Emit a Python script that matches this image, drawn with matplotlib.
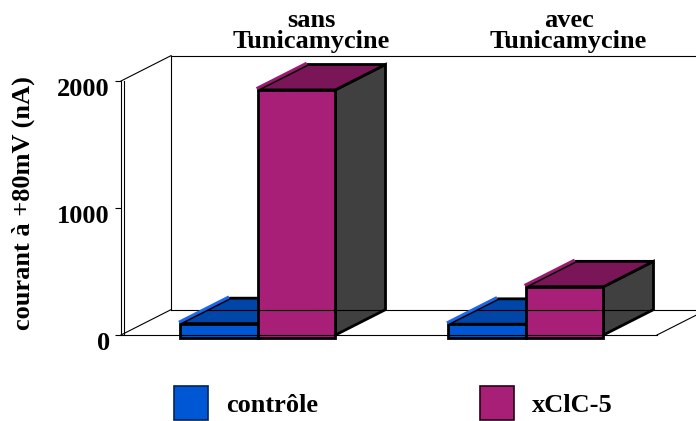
import matplotlib.pyplot as plt
from matplotlib.patches import Polygon, Rectangle, Patch
from matplotlib.transforms import ScaledTranslation

plt.rcParams['font.family'] = 'Liberation Serif'
plt.rcParams['font.weight'] = 'bold'

# data
groups = ['sans\nTunicamycine', 'avec\nTunicamycine']
series = ['contrôle', 'xClC-5']
controle = [90, 85]
xclc5 = [1930, 380]
yticks = [0, 1000, 2000]

front_colors = ['#0057d6', '#a81f78']
top_colors = ['#0045a8', '#7a1657']
edge_colors = ['#1a66e6', '#9a1a70']
side_color = '#404040'

# pseudo-3D depth (in data units)
DX = 0.187
DY = 200
BAR_W = 0.29
XMIN, XMAX = -0.51, 1.49
YMAX = 2000
label_x = [0.20, 1.16]

fig = plt.figure(figsize=(6.96, 4.21), dpi=100)
ax = fig.add_axes([121 / 696, (421 - 335) / 421, 536 / 696, 254 / 421])
ax.set_xlim(XMIN, XMAX)
ax.set_ylim(0, YMAX)

for s in ['top', 'right', 'bottom']:
    ax.spines[s].set_visible(False)
ax.spines['left'].set_linewidth(0.8)
ax.set_xticks([])
ax.set_yticks(yticks)
ax.set_yticklabels([str(t) for t in yticks], fontsize=19, fontweight='bold')
ax.tick_params(axis='y', direction='out', length=4, width=0.8, pad=4)
shift = ScaledTranslation(0, -4.5 / 72, fig.dpi_scale_trans)
for lab in ax.get_yticklabels():
    lab.set_transform(lab.get_transform() + shift)
ax.set_ylabel('courant à +80mV (nA)', fontsize=19, fontweight='bold')
ax.yaxis.set_label_coords(-0.16, 0.52)

# walls / floor
lk = dict(color='black', lw=0.8, clip_on=False)
ax.plot([XMIN + 0.012, XMIN + 0.012], [0, YMAX], **lk)
ax.plot([XMIN, XMAX], [0, 0], **lk)
ax.plot([XMIN, XMIN + DX], [0, DY], **lk)
ax.plot([XMIN, XMIN + DX], [YMAX, YMAX + DY], **lk)
ax.plot([XMIN + DX, XMIN + DX], [DY, YMAX + DY], **lk)
ax.plot([XMIN + DX, XMAX + DX], [DY, DY], **lk)
ax.plot([XMIN + DX, XMAX + DX], [YMAX + DY, YMAX + DY], **lk)
ax.plot([XMAX, XMAX + DX], [0, DY], **lk)


def bar3d(x0, v, front, top, edge):
    x1 = x0 + BAR_W
    kw = dict(edgecolor='black', lw=2, joinstyle='miter', clip_on=False)
    ax.add_patch(Polygon([(x1, 0), (x1 + DX, DY), (x1 + DX, v + DY), (x1, v)],
                         facecolor=side_color, **kw))
    # coloured rim on the slanted left edge of the top
    ax.plot([x0 - 0.004, x0 + DX - 0.004], [v + 10, v + DY + 10], color=edge,
            lw=2.2, solid_capstyle='butt', clip_on=False)
    ax.add_patch(Polygon([(x0, v), (x0 + DX, v + DY), (x1 + DX, v + DY), (x1, v)],
                         facecolor=top, **kw))
    ax.add_patch(Rectangle((x0, -20), BAR_W, v + 20, facecolor=front, **kw))


for i in range(len(groups)):
    bar3d(i - BAR_W, controle[i], front_colors[0], top_colors[0], edge_colors[0])
    bar3d(i, xclc5[i], front_colors[1], top_colors[1], edge_colors[1])
    ax.text(label_x[i], YMAX + DY + 18, groups[i], ha='center', va='bottom',
            fontsize=19, fontweight='bold', linespacing=0.88)

handles = [Patch(facecolor=front_colors[0], edgecolor='#00245a', lw=1.2),
           Patch(facecolor=front_colors[1], edgecolor='#2a0018', lw=1.2)]
fig.legend(handles, series, loc='center left', bbox_to_anchor=(150 / 696, 1 - 403 / 421),
           ncol=2, frameon=False, handlelength=1.3, handleheight=1.6,
           handletextpad=0.7, columnspacing=6.1, prop={'weight': 'bold', 'size': 19})

fig.savefig('out.png', dpi=100)
